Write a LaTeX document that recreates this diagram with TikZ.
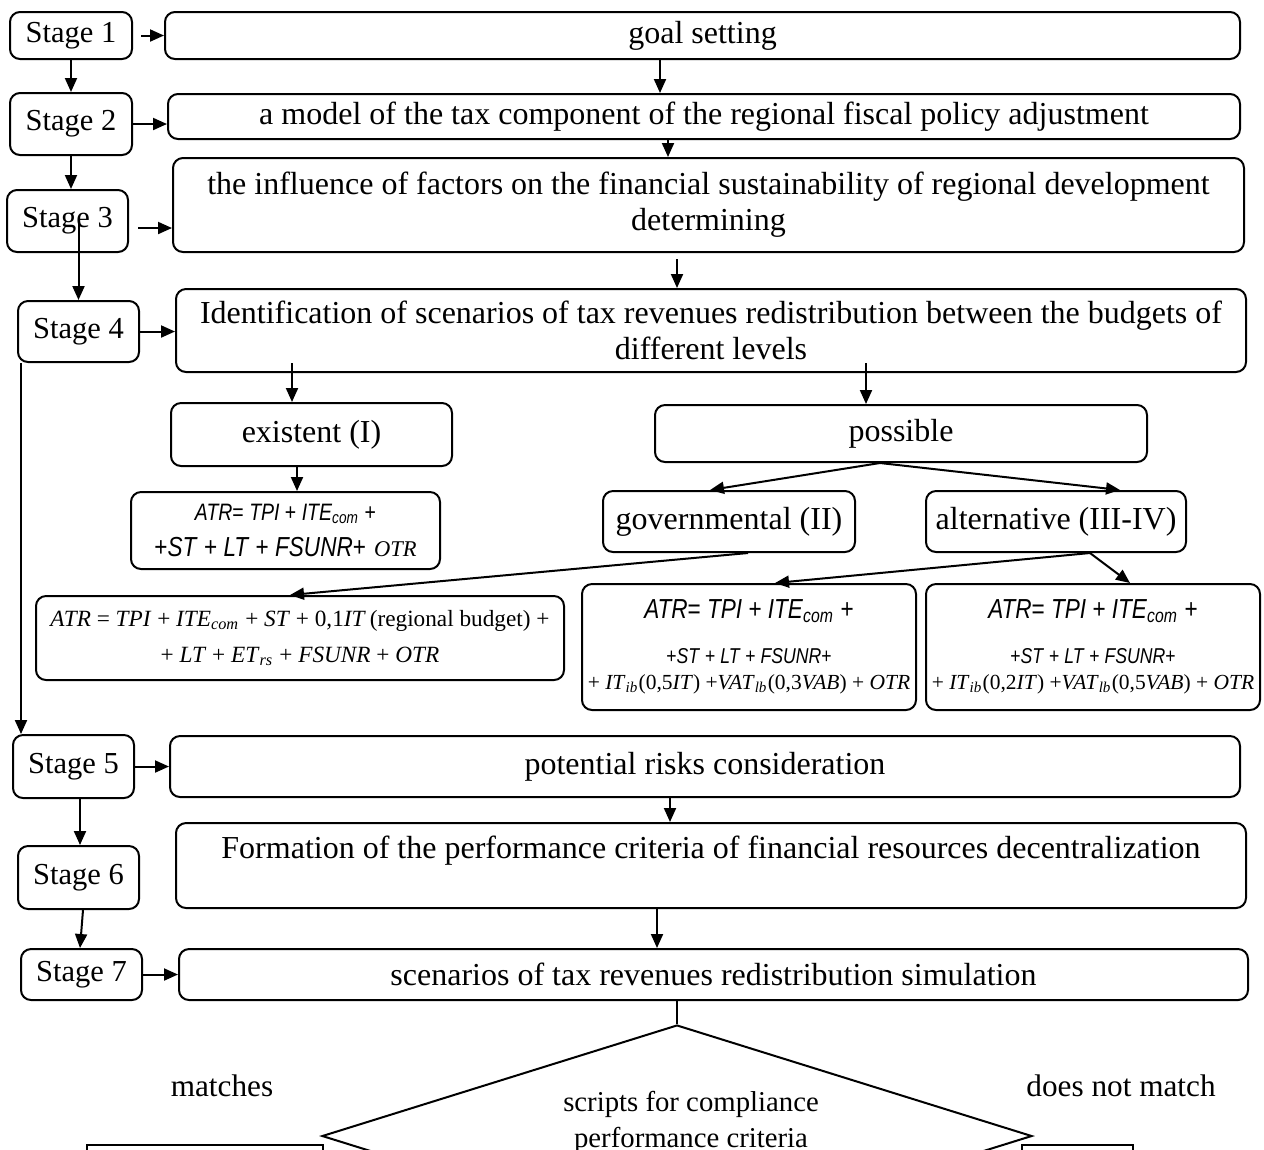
\documentclass[tikz,border=0pt]{standalone}
\usepackage{fontspec}
\setmainfont{Liberation Serif}
\newfontfamily\sfnarrow{Liberation Sans}[FakeStretch=0.82]
\usetikzlibrary{arrows.meta,shapes.geometric}

\tikzset{
  boxsize/.style 2 args={minimum width=#1*0.4pt, minimum height=#2*0.4pt}
}

\begin{document}
\begin{tikzpicture}[x=0.4pt,y=-0.4pt,line width=0.8pt,>={Triangle[length=5.6pt,width=4.8pt]}]
    \tikzstyle{every node}+=[inner sep=0pt, font=\fontsize{12.8}{14.4}\selectfont]
    \tikzstyle{rbox}=[draw, rounded corners=4pt, align=center]
    \tikzstyle{stagebox}=[rbox, font=\fontsize{12.2}{14.4}\selectfont]
    \tikzstyle{sbox}=[draw]
    \tikzstyle{fsans}=[font=\fontsize{8.6}{10.4}\selectfont]
    \useasboundingbox (0,0) rectangle (1264,1149);
    \clip (0,0) rectangle (1264,1149);
    \node [stagebox, boxsize={122}{47}] (st1) at (71,35.5) {Stage 1};
    \node [stagebox, boxsize={122}{62}] (st2) at (71,124) {Stage 2};
    \node [stagebox, boxsize={121}{62}] (st3) at (67.5,221) {Stage 3};
    \node [stagebox, boxsize={121}{61}] (st4) at (78.5,331.5) {Stage 4};
    \node [stagebox, boxsize={121}{63}] (st5) at (73.5,766.5) {Stage 5};
    \node [stagebox, boxsize={121}{63}] (st6) at (78.5,877.5) {Stage 6};
    \node [stagebox, boxsize={121}{51}] (st7) at (81.5,974.5) {Stage 7};
    \node [rbox, boxsize={1075}{47}] (goal) at (702.5,35.5) {goal setting};
    \node [rbox, boxsize={1072}{45}] (model) at (704,116.5) {a model of the tax component of the regional fiscal policy adjustment};
    \node [rbox, boxsize={1071}{94}] (infl) at (708.5,205) {the influence of factors on the financial sustainability of regional development\\determining};
    \node [rbox, boxsize={1070}{83}] (ident) at (711,330.5) {Identification of scenarios of tax revenues redistribution between the budgets of\\different levels};
    \node [rbox, boxsize={281}{63}] (exist) at (311.5,434.5) {existent (I)};
    \node [rbox, boxsize={492}{57}] (poss) at (901,433.5) {possible};
    \node [rbox, boxsize={309}{77}] (form1) at (285.5,530.5) {{\sfnarrow\fontsize{9.5}{14.4}\selectfont\textit{ATR}= \textit{TPI} + \textit{ITE}\textsubscript{\textit{com}} +}\\{\sfnarrow\fontsize{11}{14.4}\selectfont +\textit{ST} + \textit{LT} + \textit{FSUNR}+} {\fontsize{9}{10}\selectfont\textit{OTR}}};
    \node [rbox, boxsize={252}{61}] (gov) at (729,521.5) {governmental (II)};
    \node [rbox, boxsize={260}{61}] (alt) at (1056,521.5) {alternative (III-IV)};
    \node [rbox, boxsize={528}{84}, font=\fontsize{9.3}{14.4}\selectfont] (fgov) at (300,638) {\textit{ATR} = \textit{TPI} + \textit{ITE}\textsubscript{\textit{com}} + \textit{ST} + 0,1\textit{IT}\,(regional budget) +\\+ \textit{LT} + \textit{ET}\textsubscript{\textit{rs}} + \textit{FSUNR} + \textit{OTR}};
    \node [rbox, boxsize={334}{126}, fsans] (falt1) at (749,647) {{\sfnarrow\fontsize{11}{13}\selectfont\textit{ATR}= \textit{TPI} + \textit{ITE}\textsubscript{\textit{com}} +}\\[7.6pt]{\sfnarrow\fontsize{8.6}{12}\selectfont +\textit{ST} + \textit{LT} + \textit{FSUNR}+}\\+ \textit{IT}\textsubscript{\textit{ib}}(0,5\textit{IT}) +\textit{VAT}\textsubscript{\textit{lb}}(0,3\textit{VAB}) + \textit{OTR}};
    \node [rbox, boxsize={334}{126}, fsans] (falt2) at (1093,647) {{\sfnarrow\fontsize{11}{13}\selectfont\textit{ATR}= \textit{TPI} + \textit{ITE}\textsubscript{\textit{com}} +}\\[7.6pt]{\sfnarrow\fontsize{8.6}{12}\selectfont +\textit{ST} + \textit{LT} + \textit{FSUNR}+}\\+ \textit{IT}\textsubscript{\textit{ib}}(0,2\textit{IT}) +\textit{VAT}\textsubscript{\textit{lb}}(0,5\textit{VAB}) + \textit{OTR}};
    \node [rbox, boxsize={1070}{61}] (risk) at (705,766.5) {potential risks consideration};
    \node [rbox, boxsize={1070}{85}] (formn) at (711,865.5) {};
    \node (formtxt) at (711,851) {Formation of the performance criteria of financial resources decentralization};
    \node [rbox, boxsize={1069}{51}] (sim) at (713.5,974.5) {scenarios of tax revenues redistribution simulation};
    \node [draw, diamond, boxsize={710}{222}] (dec) at (677,1136) {};
    \node [align=center, font=\fontsize{11.5}{14.4}\selectfont] (dectxt) at (691,1122) {scripts for compliance\\performance criteria};
    \node [font=\fontsize{12.5}{14.4}\selectfont] (yes) at (222,1086) {matches};
    \node [font=\fontsize{12.5}{14.4}\selectfont] (no) at (1121,1086) {does not match};
    \node [sbox, boxsize={236}{100}] (yesbox) at (205,1195) {};
    \node [sbox, boxsize={111}{100}] (nobox) at (1077.5,1195) {};
    \coordinate (st3out) at ([yshift=-2.8pt]st3.east);
    \draw [->, shorten <=3.2pt] (st1.east) -- (goal.west);
    \draw [->] (st1.south) -- (st2.north);
    \draw [->] (660,0 |- goal.south) -- (660,0 |- model.north);
    \draw [->] (st2.east) -- (st2.east -| model.west);
    \draw [->] (668,0 |- model.south) -- (668,0 |- infl.north);
    \draw [->] (st2.south) -- (st2.south |- st3.north);
    \draw [->, shorten <=3.6pt] (st3out) -- (st3out -| infl.west);
    \draw [->] (st3.center -| st4.north) -- (st4.north);
    \draw [->] (st4.east) -- (st4.east -| ident.west);
    \draw [->, shorten <=2.4pt] (677,0 |- infl.south) -- (677,0 |- ident.north);
    \draw [->, shorten <=-4pt] (292,0 |- ident.south) -- (292,0 |- exist.north);
    \draw [->, shorten <=-4pt] (866,0 |- ident.south) -- (866,0 |- poss.north);
    \draw [->] (297,0 |- exist.south) -- (297,0 |- form1.north);
    \draw [->] (880,0 |- poss.south) -- (710,0 |- gov.north);
    \draw [->] (880,0 |- poss.south) -- (1120,0 |- alt.north);
    \draw [->] (748,0 |- gov.south) -- (290,0 |- fgov.north);
    \draw [->] (1090,0 |- alt.south) -- (775,0 |- falt1.north);
    \draw [->] (1090,0 |- alt.south) -- (1130,0 |- falt2.north);
    \draw [->] (21,0 |- st4.south) -- (21,0 |- st5.north);
    \draw [->] (st5.east) -- (st5.east -| risk.west);
    \draw [->] (670,0 |- risk.south) -- (670,0 |- formn.north);
    \draw [->] (80,0 |- st5.south) -- (80,0 |- st6.north);
    \draw [->] (83,0 |- st6.south) -- (80,0 |- st7.north);
    \draw [->] (657,0 |- formn.south) -- (657,0 |- sim.north);
    \draw [->] (st7.east) -- (st7.east -| sim.west);
    \draw (677,0 |- sim.south) -- (dec.north);
\end{tikzpicture}
\end{document}
